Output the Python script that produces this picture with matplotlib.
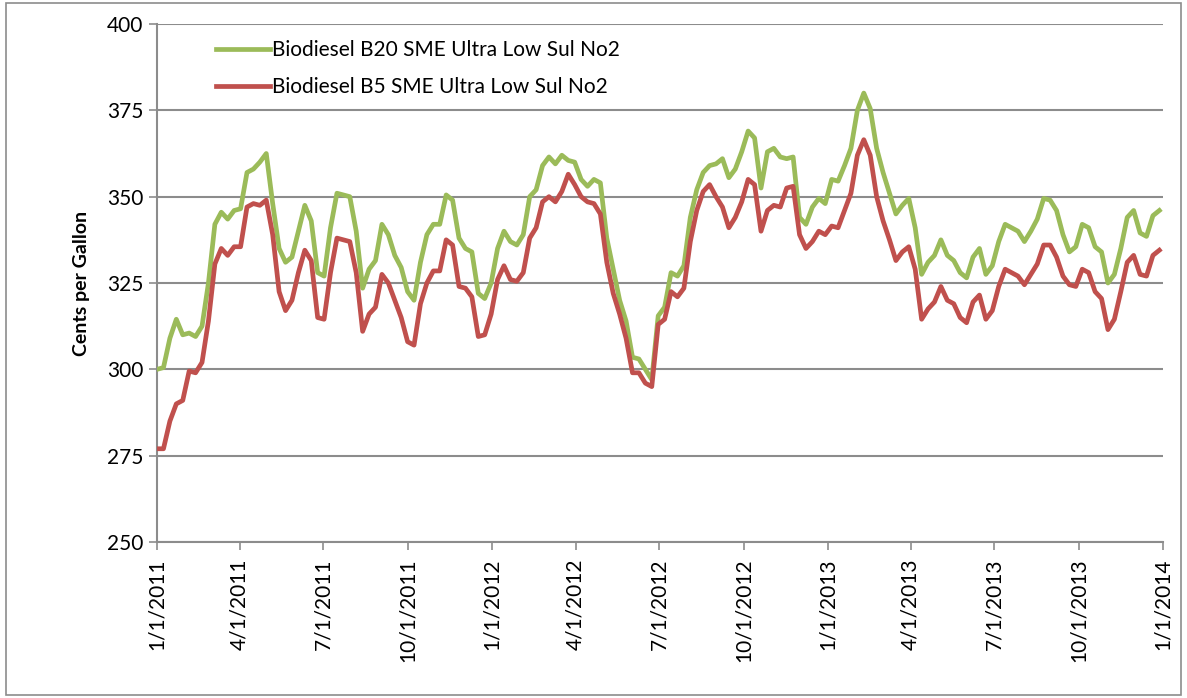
import datetime as dt
import matplotlib
matplotlib.use('Agg')
import matplotlib.pyplot as plt
import matplotlib.dates as mdates
from matplotlib.patches import Rectangle

# Weekly prices, cents per gallon
b20 = [300, 300.5, 309, 314.5, 310, 310.5, 309.5, 312.5, 325, 342,
       345.5, 343.5, 346, 346.5, 357, 358, 360, 362.5, 348, 335,
       331, 332.5, 340, 347.5, 343, 328, 327, 341, 351, 350.5,
       350, 340, 323.5, 329, 331.5, 342, 339, 333, 329.5, 322.5,
       320, 331, 339, 342, 342, 350.5, 349, 338, 335, 334,
       322, 320.5, 325, 335, 340, 337, 336, 339, 350, 352,
       359, 361.5, 359.5, 362, 360.5, 360, 355, 353, 355,
       354, 338, 329, 320, 314, 303.5, 303, 300, 297, 315.5,
       318, 328, 327, 330, 344, 352, 357, 359, 359.5, 361,
       355.5, 358, 363, 369, 367, 352.5, 363, 364, 361.5, 361,
       361.5, 344, 342, 347, 349.5, 348, 355, 354.5, 359, 364,
       375, 380, 375.5, 364, 357, 351, 345, 347.5, 349.5, 341,
       327.5, 331, 333, 337.5, 333, 331.5, 328, 326.5, 332.5, 335,
       327.5, 330, 337, 342, 341, 340, 337, 340, 343.5, 349.5,
       349, 346, 339, 334, 335.5, 342, 341, 335.5, 334, 325,
       327.5, 335, 344, 346, 339.5, 338.5, 344.5, 346]
b5 = [277, 277, 285, 290, 291, 299.5, 299, 302, 314, 330.5,
      335, 333, 335.5, 335.5, 347, 348, 347.5, 349, 339, 322.5,
      317, 320, 328, 334.5, 331.5, 315, 314.5, 328, 338, 337.5,
      337, 328, 311, 316, 318, 327.5, 325, 320, 315, 308,
      307, 319, 325, 328.5, 328.5, 337.5, 336, 324, 323.5, 321,
      309.5, 310, 316, 326, 330, 326, 325.5, 328, 338, 341,
      348.5, 350, 348.5, 351.5, 356.5, 353.5, 350, 348.5, 348,
      345, 331, 322, 316, 309, 299, 299, 296, 295, 313,
      314.5, 322.5, 321, 323.5, 337, 346, 351.5, 353.5, 350, 347,
      341, 344, 348.5, 355, 353.5, 340, 346, 347.5, 347, 352.5,
      353, 339, 335, 337, 340, 339, 341.5, 341, 346, 351,
      362, 366.5, 362, 350, 343, 337.5, 331.5, 334, 335.5, 329,
      314.5, 317.5, 319.5, 324, 320, 319, 315, 313.5, 319.5, 321.5,
      314.5, 317, 324, 329, 328, 327, 324.5, 327.5, 330.5, 336,
      336, 332.5, 327, 324.5, 324, 329, 328, 322.5, 320.5, 311.5,
      314.5, 322.5, 331, 333, 327.5, 327, 333, 334.5]

start = dt.date(2011, 1, 1)
dates = [start + dt.timedelta(days=7 * i) for i in range(len(b20))]
tick_dates = [dt.date(y, m, 1) for y in (2011, 2012, 2013) for m in (1, 4, 7, 10)]
tick_dates.append(dt.date(2014, 1, 1))
tick_labels = ['%d/%d/%d' % (d.month, d.day, d.year) for d in tick_dates]
y_ticks = [250, 275, 300, 325, 350, 375, 400]

plt.rcParams['font.family'] = ['Lato', 'DejaVu Sans']
fig = plt.figure(figsize=(11.87, 6.98), dpi=100)
ax = fig.add_axes([0.1323, 0.2235, 0.8475, 0.7421])

grid_col = '#8c8c8c'
ax.plot(dates, b20, color='#9BBB59', lw=3.4, label='Biodiesel B20 SME Ultra Low Sul No2',
        solid_joinstyle='round', zorder=3)
ax.plot(dates, b5, color='#C0504D', lw=3.4, label='Biodiesel B5 SME Ultra Low Sul No2',
        solid_joinstyle='round', zorder=3)

ax.set_xlim(mdates.date2num(start), mdates.date2num(dt.date(2014, 1, 1)))
ax.set_ylim(250, 400)
ax.set_yticks(y_ticks)
ax.set_xticks([mdates.date2num(d) for d in tick_dates])
ax.set_xticklabels(tick_labels, rotation=90, fontsize=15)
ax.tick_params(axis='y', labelsize=15, length=6, color=grid_col, width=1.2, pad=4)
ax.tick_params(axis='x', length=6, color=grid_col, width=1.2, pad=6)
ax.yaxis.grid(True, color=grid_col, lw=1.5)
ax.set_axisbelow(True)
for s in ('top', 'right'):
    ax.spines[s].set_visible(False)
for s in ('left', 'bottom'):
    ax.spines[s].set_color(grid_col)
    ax.spines[s].set_linewidth(1.5)

ax.set_ylabel('Cents per Gallon', fontsize=14, fontweight='bold', labelpad=12)
ax.legend(loc='upper left', bbox_to_anchor=(0.04, 1.005), frameon=False, fontsize=15,
          handlelength=2.6, handletextpad=0.1, labelspacing=0.8)

# Outer chart border
fig.patches.append(Rectangle((0.005, 0.005), 0.99, 0.99, transform=fig.transFigure,
                             fill=False, edgecolor='#8c8c8c', lw=1.2))

plt.savefig('out.png', dpi=100)
